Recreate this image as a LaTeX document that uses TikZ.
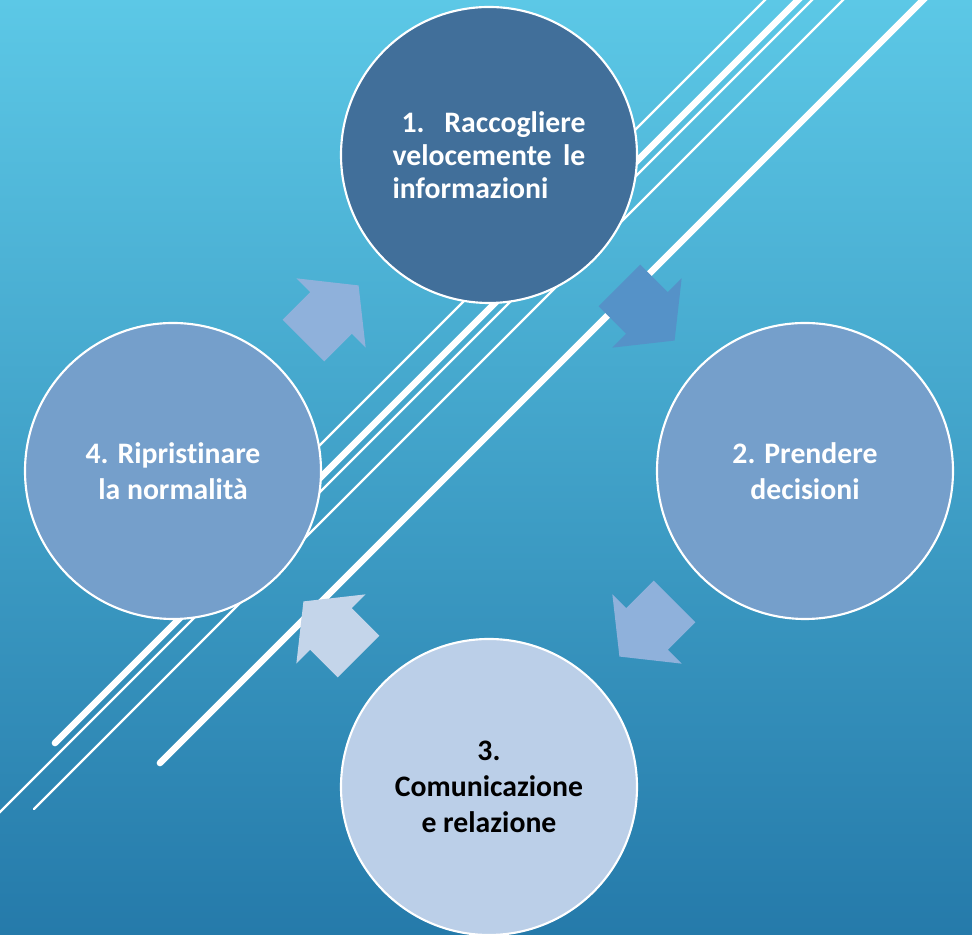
\documentclass[tikz,border=0pt]{standalone}
\usepackage{fontspec}
\setmainfont{Carlito}[Ligatures=NoCommon]
\usetikzlibrary{calc}
\definecolor{bgtop}{RGB}{92,200,230}
\definecolor{bgbottom}{RGB}{37,122,170}
\definecolor{stepdark}{RGB}{65,111,154}
\definecolor{stepmid}{RGB}{117,159,203}
\definecolor{steplight}{RGB}{187,207,232}
\definecolor{arrowdark}{RGB}{85,146,200}
\definecolor{arrowmid}{RGB}{143,177,219}
\definecolor{arrowlight}{RGB}{196,213,234}
\tikzset{
  stepcircle/.style={circle, draw=white, line width=1.6pt, minimum size=222pt,
    inner sep=0pt, align=center, text=white,
    font=\fontsize{22.3}{27}\selectfont\bfseries},
  thinline/.style={draw=white, line width=1.8pt, line cap=round},
  thickline/.style={draw=white, line width=5pt, line cap=round},
  cyclearrow/.pic={\fill[#1] (-39,29.5) -- (0,29.5) -- (0,49) -- (39,0)
    -- (0,-49) -- (0,-29.5) -- (-39,-29.5) -- cycle;}
}
\begin{document}
\begin{tikzpicture}[x=0.75pt,y=0.75pt]
\useasboundingbox (0,0) rectangle (972,935);
% background
\shade[top color=bgtop, bottom color=bgbottom] (0,0) rectangle (972,935);
% diagonal streaks
\begin{scope}
  \clip (0,0) rectangle (972,935);
  \coordinate (t1) at (775,945);  \coordinate (b1) at (233,403);
  \coordinate (t2) at (808,945);  \coordinate (b2) at (55,192);
  \coordinate (t3) at (822,945);  \coordinate (b3) at (-10,113);
  \coordinate (t4) at (853,945);  \coordinate (b4) at (34,126);
  \coordinate (t5) at (933,945);  \coordinate (b5) at (160,172);
  \draw[thinline] (t1) -- (b1);
  \draw[thickline] (t2) -- (b2);
  \draw[thinline] (t3) -- (b3);
  \draw[thinline] (t4) -- (b4);
  \draw[thickline] (t5) -- (b5);
\end{scope}
% cycle steps
\node[stepcircle, fill=stepdark] (s1) at (489,780)
  {\parbox{144.75pt}{\fontsize{22.3}{24.75}\selectfont\bfseries
    \hbox to \linewidth{\hspace*{6.75pt}1.\hfill Raccogliere}
    \hbox to \linewidth{velocemente\hfill le}
    \hbox to \linewidth{informazioni\hfill}}};
\node[stepcircle, fill=stepmid] (s2) at (805,464) {2. Prendere\\decisioni};
\node[stepcircle, fill=steplight, text=black] (s3) at (489,148)
  {3.\\Comunicazione\\e relazione};
\node[stepcircle, fill=stepmid] (s4) at (173,464) {4. Ripristinare\\la normalità};
% arrows between steps
\pic[rotate=-45] at ($(s1)!0.5!(s2)$) {cyclearrow=arrowdark};
\pic[rotate=-135] at ($(s2)!0.5!(s3)$) {cyclearrow=arrowmid};
\pic[rotate=135] at ($(s3)!0.5!(s4)$) {cyclearrow=arrowlight};
\pic[rotate=45] at ($(s4)!0.5!(s1)$) {cyclearrow=arrowmid};
\end{tikzpicture}
\end{document}
